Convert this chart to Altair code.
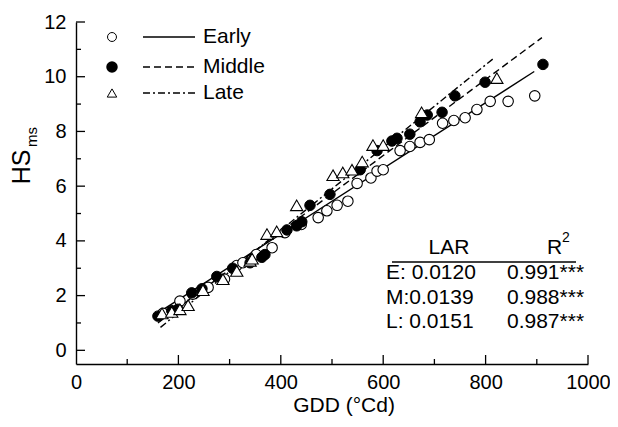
import altair as alt
import pandas as pd

FONT = "Liberation Sans"

# ---------------- data ----------------
early_gdd = [170, 203, 228, 258, 290, 314, 326, 352, 383, 408, 440, 473, 490, 510, 531,
             549, 576, 588, 600, 633, 652, 672, 690, 716, 738, 760, 783, 809, 844, 896]
early_hs = [1.35, 1.8, 2.05, 2.3, 2.6, 3.1, 3.2, 3.5, 3.75, 4.3, 4.6, 4.85, 5.1, 5.3, 5.45,
            6.1, 6.3, 6.55, 6.6, 7.3, 7.45, 7.6, 7.7, 8.3, 8.4, 8.5, 8.8, 9.1, 9.1, 9.3]

middle_gdd = [160, 187, 199, 226, 246, 275, 306, 340, 363, 369, 412, 431, 441, 457, 496,
              555, 588, 617, 627, 652, 672, 686, 715, 740, 799, 912]
middle_hs = [1.25, 1.45, 1.5, 2.1, 2.25, 2.7, 3.0, 3.2, 3.4, 3.5, 4.4, 4.55, 4.7, 5.3, 5.7,
             6.6, 7.3, 7.65, 7.75, 7.9, 8.35, 8.6, 8.7, 9.3, 9.8, 10.45]

late_gdd = [168, 187, 203, 219, 248, 287, 314, 340, 344, 373, 392, 431, 502, 521, 539,
            559, 580, 600, 675, 822]
late_hs = [1.35, 1.4, 1.5, 1.65, 2.2, 2.6, 2.9, 3.27, 3.35, 4.25, 4.35, 5.3, 6.4, 6.5, 6.6,
           6.9, 7.5, 7.5, 8.7, 9.95]

# fitted lines (end points)
early_line_gdd = [170, 895]
early_line_hs = [1.49, 10.19]
middle_line_gdd = [160, 910]
middle_line_hs = [1.0, 11.43]
late_line_gdd = [165, 815]
late_line_hs = [0.84, 10.66]

x_major = [200, 400, 600, 800, 1000]
x_minor = [100, 300, 500, 700, 900]
y_major = [0, 2, 4, 6, 8, 10, 12]
y_minor = [1, 3, 5, 7, 9, 11]

legend_labels = ["Early", "Middle", "Late"]
table_rows = ["E: 0.0120", "M:0.0139", "L: 0.0151"]
table_r2 = ["0.991***", "0.988***", "0.987***"]

# ---------------- chart ----------------
W, H = 512, 342
xs = alt.Scale(domain=[0, 1000], nice=False, zero=False)
ys = alt.Scale(domain=[-0.5, 12], nice=False, zero=False)

def pts(g, h):
    return pd.DataFrame({"GDD": g, "HS": h})

X = alt.X("GDD:Q", scale=xs,
          axis=alt.Axis(values=x_major + [0], title=None, ticks=False, grid=False, format="d",
                        labelFontSize=20, labelFont=FONT, labelColor="black",
                        labelPadding=8, labelFlush=False, labelOverlap=False,
                        domainColor="black", domainWidth=1.4))
Y = alt.Y("HS:Q", scale=ys,
          axis=alt.Axis(values=y_major, title=None, ticks=False, grid=False, format="d",
                        labelFontSize=20, labelFont=FONT, labelColor="black",
                        labelPadding=10, labelFlush=False, labelOverlap=False,
                        domainColor="black", domainWidth=1.4))

lw = 1.4
line_e = alt.Chart(pts(early_line_gdd, early_line_hs)).mark_line(color="black", strokeWidth=lw).encode(x=X, y=Y)
line_m = alt.Chart(pts(middle_line_gdd, middle_line_hs)).mark_line(color="black", strokeWidth=lw, strokeDash=[7, 4]).encode(x=X, y=Y)
line_l = alt.Chart(pts(late_line_gdd, late_line_hs)).mark_line(color="black", strokeWidth=lw, strokeDash=[7, 3, 2, 3]).encode(x=X, y=Y)

pt_e = alt.Chart(pts(early_gdd, early_hs)).mark_point(shape="circle", size=110, filled=True, fill="white", stroke="black", strokeWidth=1.1, opacity=1).encode(x=X, y=Y)
pt_m = alt.Chart(pts(middle_gdd, middle_hs)).mark_point(shape="circle", size=110, filled=True, fill="black", stroke="black", strokeWidth=1, opacity=1).encode(x=X, y=Y)
pt_l = alt.Chart(pts(late_gdd, late_hs)).mark_point(shape="triangle-up", size=150, filled=True, fill="white", stroke="black", strokeWidth=1.1, opacity=1).encode(x=X, y=Y)

# inward ticks
tx_maj = alt.Chart(pd.DataFrame({"GDD": x_major})).mark_rule(color="black", strokeWidth=1.3).encode(x=X, y=alt.value(H), y2=alt.value(H - 9))
tx_min = alt.Chart(pd.DataFrame({"GDD": x_minor})).mark_rule(color="black", strokeWidth=1.3).encode(x=X, y=alt.value(H), y2=alt.value(H - 5))
ty_maj = alt.Chart(pd.DataFrame({"HS": y_major})).mark_rule(color="black", strokeWidth=1.3).encode(y=Y, x=alt.value(0), x2=alt.value(9))
ty_min = alt.Chart(pd.DataFrame({"HS": y_minor})).mark_rule(color="black", strokeWidth=1.3).encode(y=Y, x=alt.value(0), x2=alt.value(5))

one = pd.DataFrame({"a": [0]})

def txt(s, x, y, size=21, align="left", baseline="middle", angle=0):
    kw = dict(text=s, font=FONT, fontSize=size, align=align, baseline=baseline, color="black")
    if angle:
        kw["angle"] = angle
    return alt.Chart(one).mark_text(**kw).encode(x=alt.value(x), y=alt.value(y))

# legend
leg_y = [15, 45, 71]
legend = [
    alt.Chart(one).mark_point(shape="circle", size=80, filled=True, fill="white", stroke="black", strokeWidth=1, opacity=1).encode(x=alt.value(36), y=alt.value(leg_y[0])),
    alt.Chart(one).mark_point(shape="circle", size=90, filled=True, fill="black", stroke="black", opacity=1).encode(x=alt.value(36), y=alt.value(leg_y[1])),
    alt.Chart(one).mark_point(shape="triangle-up", size=90, filled=True, fill="white", stroke="black", strokeWidth=1, opacity=1).encode(x=alt.value(36), y=alt.value(leg_y[2])),
    alt.Chart(one).mark_rule(color="black", strokeWidth=lw).encode(x=alt.value(67), x2=alt.value(119), y=alt.value(leg_y[0])),
    alt.Chart(one).mark_rule(color="black", strokeWidth=lw, strokeDash=[7, 4]).encode(x=alt.value(67), x2=alt.value(119), y=alt.value(leg_y[1])),
    alt.Chart(one).mark_rule(color="black", strokeWidth=lw, strokeDash=[7, 3, 2, 3]).encode(x=alt.value(67), x2=alt.value(119), y=alt.value(leg_y[2])),
]
for lab, yy in zip(legend_labels, leg_y):
    legend.append(txt(lab, 127, yy))

# stats table
table = [
    txt("LAR", 373, 226, align="center"),
    txt("R", 471, 226),
    txt("2", 486, 216, size=14),
    alt.Chart(one).mark_rule(color="black", strokeWidth=1.3).encode(x=alt.value(316), x2=alt.value(500), y=alt.value(240)),
]
row_y = [251, 276, 300]
for a, b, yy in zip(table_rows, table_r2, row_y):
    table.append(txt(a, 310, yy))
    table.append(txt(b, 431, yy))

# axis titles
titles = [
    txt("GDD (°Cd)", 268, 384, size=21, align="center"),
    txt("HS", -46, 145, size=25, align="center", baseline="alphabetic", angle=270),
    txt("ms", -39, 115, size=15, align="center", baseline="alphabetic", angle=270),
]

chart = alt.layer(
    line_e, line_m, line_l, pt_e, pt_m, pt_l,
    tx_maj, tx_min, ty_maj, ty_min,
    *legend, *table, *titles
).properties(
    width=W, height=H,
    padding={"left": 68, "top": 14, "right": 22, "bottom": 55},
    autosize=alt.AutoSizeParams(type="none"),
    background="white",
).configure_view(strokeWidth=0)

chart.save("out.html", embed_options={"renderer": "svg", "actions": False})
